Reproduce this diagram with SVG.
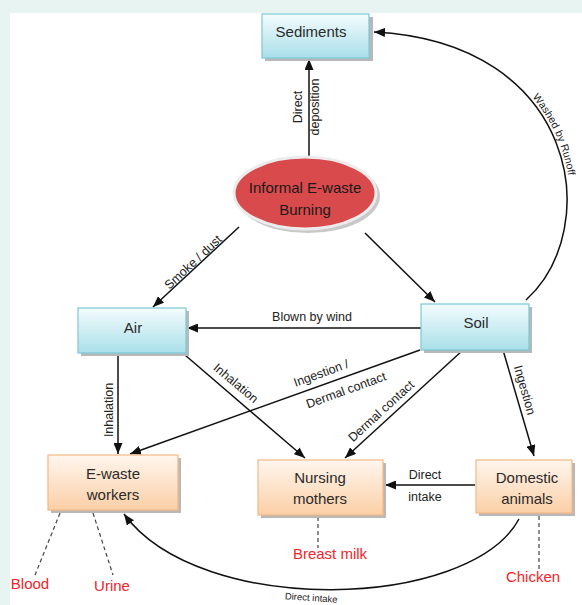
<svg xmlns="http://www.w3.org/2000/svg" width="582" height="605" viewBox="0 0 582 605">
<defs>
<linearGradient id="gBlue" x1="0" y1="0" x2="0" y2="1">
<stop offset="0" stop-color="#f4fcfd"/>
<stop offset="1" stop-color="#a9dfe9"/>
</linearGradient>
<linearGradient id="gOrange" x1="0" y1="0" x2="0" y2="1">
<stop offset="0" stop-color="#fff6ee"/>
<stop offset="1" stop-color="#fbcfa6"/>
</linearGradient>
<marker id="arr" markerUnits="userSpaceOnUse" markerWidth="11" markerHeight="9" refX="11" refY="4.5" orient="auto">
<path d="M0,0 L11,4.5 L0,9 z" fill="#111"/>
</marker>
<path id="runoffRev" d="M374,32 C578,42 605,228 526,300"/>
<style>
.bx{stroke:#7cc9d8;stroke-width:1.2;fill:url(#gBlue)}
.ox{stroke:#f6b884;stroke-width:1.2;fill:url(#gOrange)}
.sh{fill:#b8b8b8}
.t{font-family:"Liberation Sans",Arial,sans-serif;font-size:15px;fill:#2a2a2a;text-anchor:middle}
.l{font-family:"Liberation Sans",Arial,sans-serif;font-size:12.5px;fill:#222;text-anchor:middle}
.r{font-family:"Liberation Sans",Arial,sans-serif;font-size:15px;fill:#f2242b;text-anchor:middle}
.e{fill:none;stroke:#111;stroke-width:1.5}
.d{fill:none;stroke:#444;stroke-width:1.2;stroke-dasharray:4,3}
</style>
</defs>
<rect x="0" y="0" width="582" height="605" fill="#e8f4f1"/>
<rect x="10" y="13" width="572" height="592" fill="#ffffff"/>

<g id="connectors">
<line class="e" x1="309" y1="156" x2="309" y2="59" marker-end="url(#arr)"/>
<line class="e" x1="239" y1="227" x2="153" y2="307" marker-end="url(#arr)"/>
<line class="e" x1="365" y1="233" x2="435" y2="302" marker-end="url(#arr)"/>
<path class="e" d="M526,300 C605,228 578,42 374,32" marker-end="url(#arr)"/>
<line class="e" x1="421" y1="328" x2="187" y2="328" marker-end="url(#arr)"/>
<line class="e" x1="118" y1="354" x2="118" y2="454" marker-end="url(#arr)"/>
<line class="e" x1="185" y1="355" x2="305" y2="458" marker-end="url(#arr)"/>
<line class="e" x1="420" y1="350" x2="130" y2="454" marker-end="url(#arr)"/>
<line class="e" x1="463" y1="350" x2="345" y2="458" marker-end="url(#arr)"/>
<line class="e" x1="503" y1="350" x2="534" y2="456" marker-end="url(#arr)"/>
<line class="e" x1="475" y1="485" x2="385" y2="485" marker-end="url(#arr)"/>
<path class="e" d="M519,519 C470,610 200,618 124,514" marker-end="url(#arr)"/>
<line class="d" x1="60" y1="513" x2="35" y2="575"/>
<line class="d" x1="93" y1="513" x2="113" y2="575"/>
<line class="d" x1="318" y1="517" x2="318" y2="548"/>
<line class="d" x1="539" y1="516" x2="539" y2="570"/>

<text class="l" transform="translate(302,107) rotate(-90)">Direct</text>
<text class="l" transform="translate(319,107) rotate(-90)">deposition</text>
<text class="l" transform="translate(193,262) rotate(-43)" dy="0.35em">Smoke / dust</text>
<text class="l" style="font-size:10.5px" dy="-3"><textPath href="#runoffRev" startOffset="55%">Washed by Runoff</textPath></text>
<text class="l" x="312" y="321">Blown by wind</text>
<text class="l" transform="translate(113,410) rotate(-90)">Inhalation</text>
<text class="l" transform="translate(236,383) rotate(40)" dy="0.35em">Inhalation</text>
<text class="l" transform="translate(321,373) rotate(-20)" dy="0.35em">Ingestion /</text>
<text class="l" transform="translate(346,390) rotate(-20)" dy="0.35em">Dermal contact</text>
<text class="l" transform="translate(381,411) rotate(-42.5)" dy="0.35em">Dermal contact</text>
<text class="l" transform="translate(525,390) rotate(74)" dy="0.35em">Ingestion</text>
<text class="l" x="425" y="479">Direct</text>
<text class="l" x="425" y="501">intake</text>
<text class="l" transform="translate(311,601) rotate(4)" style="font-size:9.5px">Direct intake</text>
</g>

<g id="sediments">
<rect class="sh" x="265" y="17" width="108" height="44"/>
<rect class="bx" x="262" y="14" width="107" height="44"/>
<text class="t" x="311" y="37">Sediments</text>
</g>

<g id="burning">
<ellipse cx="308" cy="196" rx="72" ry="37" fill="#c9c9c9"/>
<ellipse cx="305" cy="193" rx="71" ry="36" fill="#d94a4c" stroke="#ececec" stroke-width="3"/>
<text class="t" x="305" y="193" style="fill:#1a1a1a">Informal E-waste</text>
<text class="t" x="305" y="215" style="fill:#1a1a1a">Burning</text>
</g>

<g id="air">
<rect class="sh" x="81" y="311" width="108" height="45"/>
<rect class="bx" x="78" y="308" width="108" height="45"/>
<text class="t" x="133" y="333">Air</text>
</g>

<g id="soil">
<rect class="sh" x="424" y="307" width="108" height="46"/>
<rect class="bx" x="421" y="304" width="108" height="46"/>
<text class="t" x="476" y="328">Soil</text>
</g>

<g id="ewaste-workers">
<rect class="sh" x="51" y="458" width="130" height="55"/>
<rect class="ox" x="48" y="455" width="130" height="55"/>
<text class="t" x="113" y="479">E-waste</text>
<text class="t" x="113" y="500">workers</text>
</g>

<g id="nursing-mothers">
<rect class="sh" x="261" y="463" width="125" height="55"/>
<rect class="ox" x="258" y="460" width="125" height="55"/>
<text class="t" x="320" y="483">Nursing</text>
<text class="t" x="320" y="504">mothers</text>
</g>

<g id="domestic-animals">
<rect class="sh" x="479" y="463" width="96" height="53"/>
<rect class="ox" x="476" y="460" width="96" height="53"/>
<text class="t" x="527" y="483">Domestic</text>
<text class="t" x="527" y="504">animals</text>
</g>

<g id="biomarkers">
<text class="r" x="30" y="589">Blood</text>
<text class="r" x="112" y="591">Urine</text>
<text class="r" x="330" y="559">Breast milk</text>
<text class="r" x="533" y="582">Chicken</text>
</g>
</svg>
